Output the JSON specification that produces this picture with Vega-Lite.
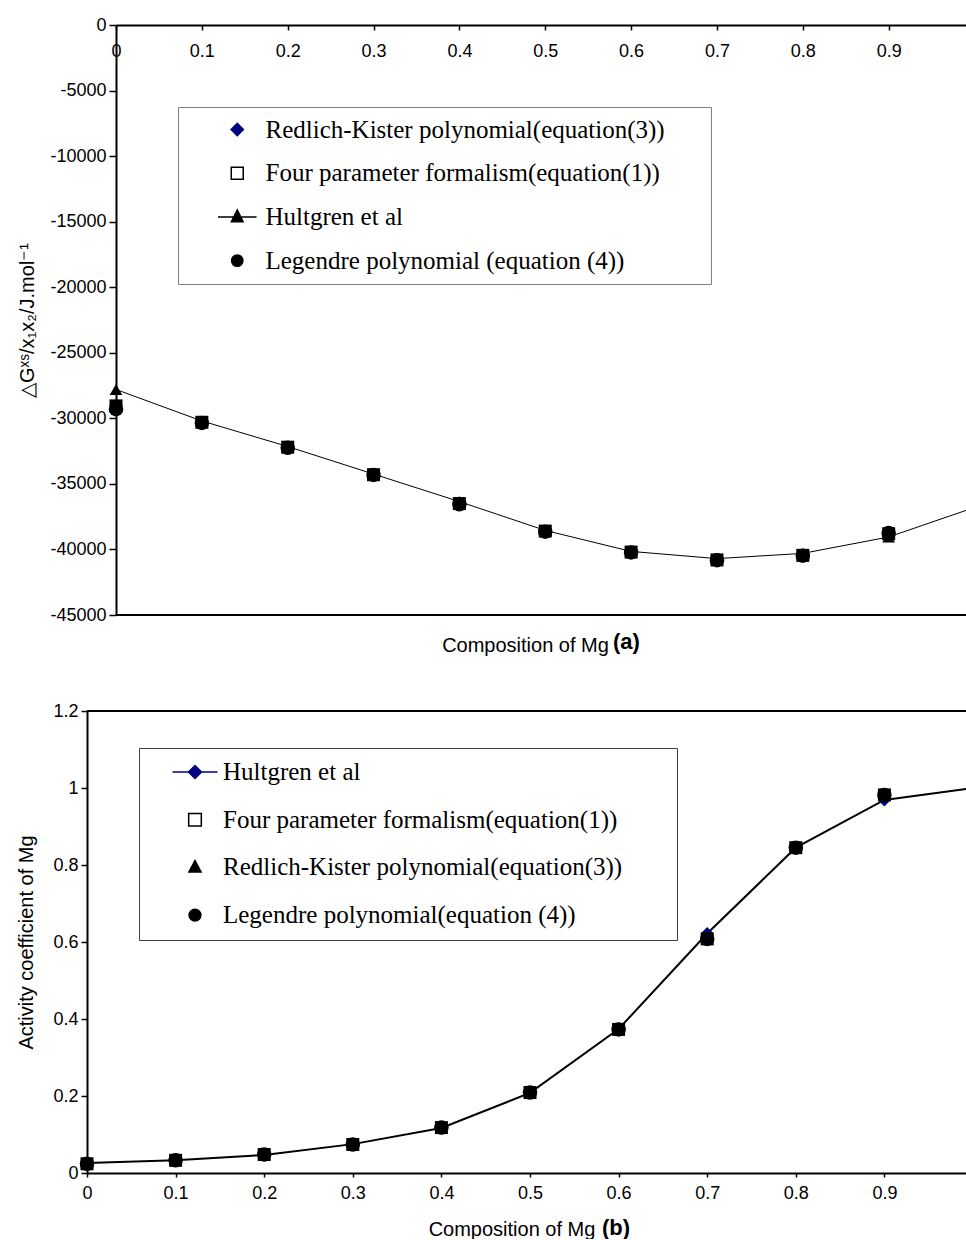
{
  "$schema": "https://vega.github.io/schema/vega-lite/v6.json",
  "background": "white",
  "padding": {"left": 16, "top": 16, "right": 0, "bottom": 0},
  "spacing": 47,
  "config": {
    "view": {"stroke": null},
    "axis": {"labelFont": "Liberation Sans", "labelFontSize": 18, "labelColor": "black", "labelFlush": false, "titleFont": "Liberation Sans", "titleFontSize": 20, "titleFontWeight": "normal", "titleColor": "black", "domainColor": "black", "domainWidth": 2, "tickColor": "black", "tickWidth": 1.5, "grid": false},
    "legend": {"labelFont": "Liberation Serif", "labelFontSize": 25, "labelColor": "black", "labelLimit": 1000, "titleColor": "white", "titleFontSize": 2, "titleOrient": "right"},
    "title": {"font": "Liberation Sans", "fontSize": 22, "fontWeight": "bold", "color": "black"}
  },
  "datasets": {
    "a": [
      {"x": 0, "s": "H", "v": -27800}, {"x": 0.1, "s": "H", "v": -30200}, {"x": 0.2, "s": "H", "v": -32150}, {"x": 0.3, "s": "H", "v": -34250}, {"x": 0.4, "s": "H", "v": -36350}, {"x": 0.5, "s": "H", "v": -38550}, {"x": 0.6, "s": "H", "v": -40150}, {"x": 0.7, "s": "H", "v": -40700}, {"x": 0.8, "s": "H", "v": -40300}, {"x": 0.9, "s": "H", "v": -39050}, {"x": 1.0, "s": "H", "v": -36800},
      {"x": 0, "s": "RK", "v": -29250}, {"x": 0.1, "s": "RK", "v": -30350}, {"x": 0.2, "s": "RK", "v": -32200}, {"x": 0.3, "s": "RK", "v": -34300}, {"x": 0.4, "s": "RK", "v": -36550}, {"x": 0.5, "s": "RK", "v": -38650}, {"x": 0.6, "s": "RK", "v": -40200}, {"x": 0.7, "s": "RK", "v": -40800}, {"x": 0.8, "s": "RK", "v": -40450}, {"x": 0.9, "s": "RK", "v": -38750},
      {"x": 0, "s": "FP", "v": -29050}, {"x": 0.1, "s": "FP", "v": -30300}, {"x": 0.2, "s": "FP", "v": -32200}, {"x": 0.3, "s": "FP", "v": -34300}, {"x": 0.4, "s": "FP", "v": -36500}, {"x": 0.5, "s": "FP", "v": -38600}, {"x": 0.6, "s": "FP", "v": -40200}, {"x": 0.7, "s": "FP", "v": -40800}, {"x": 0.8, "s": "FP", "v": -40450}, {"x": 0.9, "s": "FP", "v": -38800},
      {"x": 0, "s": "L", "v": -29300}, {"x": 0.1, "s": "L", "v": -30350}, {"x": 0.2, "s": "L", "v": -32250}, {"x": 0.3, "s": "L", "v": -34320}, {"x": 0.4, "s": "L", "v": -36560}, {"x": 0.5, "s": "L", "v": -38650}, {"x": 0.6, "s": "L", "v": -40230}, {"x": 0.7, "s": "L", "v": -40820}, {"x": 0.8, "s": "L", "v": -40480}, {"x": 0.9, "s": "L", "v": -38750}
    ],
    "b": [
      {"x": 0, "s": "H", "v": 0.026}, {"x": 0.1, "s": "H", "v": 0.033}, {"x": 0.2, "s": "H", "v": 0.047}, {"x": 0.3, "s": "H", "v": 0.075}, {"x": 0.4, "s": "H", "v": 0.117}, {"x": 0.5, "s": "H", "v": 0.208}, {"x": 0.6, "s": "H", "v": 0.374}, {"x": 0.7, "s": "H", "v": 0.622}, {"x": 0.8, "s": "H", "v": 0.845}, {"x": 0.9, "s": "H", "v": 0.969}, {"x": 1.0, "s": "H", "v": 1.0},
      {"x": 0, "s": "FP", "v": 0.024}, {"x": 0.1, "s": "FP", "v": 0.033}, {"x": 0.2, "s": "FP", "v": 0.048}, {"x": 0.3, "s": "FP", "v": 0.074}, {"x": 0.4, "s": "FP", "v": 0.118}, {"x": 0.5, "s": "FP", "v": 0.209}, {"x": 0.6, "s": "FP", "v": 0.373}, {"x": 0.7, "s": "FP", "v": 0.608}, {"x": 0.8, "s": "FP", "v": 0.845}, {"x": 0.9, "s": "FP", "v": 0.982},
      {"x": 0, "s": "RK", "v": 0.024}, {"x": 0.1, "s": "RK", "v": 0.033}, {"x": 0.2, "s": "RK", "v": 0.048}, {"x": 0.3, "s": "RK", "v": 0.074}, {"x": 0.4, "s": "RK", "v": 0.118}, {"x": 0.5, "s": "RK", "v": 0.209}, {"x": 0.6, "s": "RK", "v": 0.373}, {"x": 0.7, "s": "RK", "v": 0.608}, {"x": 0.8, "s": "RK", "v": 0.845}, {"x": 0.9, "s": "RK", "v": 0.982},
      {"x": 0, "s": "L", "v": 0.024}, {"x": 0.1, "s": "L", "v": 0.033}, {"x": 0.2, "s": "L", "v": 0.048}, {"x": 0.3, "s": "L", "v": 0.074}, {"x": 0.4, "s": "L", "v": 0.118}, {"x": 0.5, "s": "L", "v": 0.209}, {"x": 0.6, "s": "L", "v": 0.373}, {"x": 0.7, "s": "L", "v": 0.608}, {"x": 0.8, "s": "L", "v": 0.845}, {"x": 0.9, "s": "L", "v": 0.982}
    ]
  },
  "resolve": {"scale": {"shape": "independent", "fill": "independent", "stroke": "independent", "size": "independent"}, "legend": {"shape": "independent", "fill": "independent", "stroke": "independent", "size": "independent"}},
  "vconcat": [
    {
      "width": 879,
      "height": 590,
      "data": {"name": "a"},
      "title": {"text": "(a)", "orient": "bottom", "anchor": "start", "frame": "group", "dx": 526, "dy": -6, "offset": 0, "baseline": "alphabetic"},
      "encoding": {
        "x": {"field": "x", "type": "quantitative", "scale": {"domain": [0, 0.9901], "range": [29, 879], "nice": false, "zero": false},
          "axis": {"orient": "bottom", "offset": -590, "values": [0, 0.1, 0.2, 0.3, 0.4, 0.5, 0.6, 0.7, 0.8, 0.9], "labelExpr": "'' + datum.value", "tickSize": 5, "labelPadding": 12, "title": "Composition of Mg", "titleX": 438, "titleY": 626, "titleAlign": "center", "titleBaseline": "alphabetic"}},
        "y": {"field": "v", "type": "quantitative", "scale": {"domain": [-45000, 0], "nice": false, "zero": false},
          "axis": {"offset": -29, "values": [0, -5000, -10000, -15000, -20000, -25000, -30000, -35000, -40000, -45000], "labelExpr": "'' + datum.value", "tickSize": 7, "labelPadding": 3, "title": "△Gˣˢ/x₁x₂/J.mol⁻¹", "titleX": -79}}
      },
      "layer": [
        {"mark": {"type": "line", "color": "black", "strokeWidth": 1, "clip": true}, "transform": [{"filter": "datum.s === 'H'"}]},
        {"mark": {"type": "point", "shape": "diamond", "filled": true, "color": "#000080", "size": 169, "opacity": 1}, "transform": [{"filter": "datum.s === 'RK' && datum.x < 1"}]},
        {"mark": {"type": "point", "shape": "square", "filled": true, "color": "black", "size": 169, "opacity": 1}, "transform": [{"filter": "datum.s === 'FP' && datum.x < 1"}]},
        {"mark": {"type": "point", "shape": "triangle-up", "filled": true, "color": "black", "size": 160, "opacity": 1}, "transform": [{"filter": "datum.s === 'H' && datum.x < 1"}]},
        {"mark": {"type": "point", "shape": "circle", "filled": true, "color": "black", "size": 210, "opacity": 1}, "transform": [{"filter": "datum.s === 'L' && datum.x < 1"}]},
        {"mark": {"type": "rule", "color": "black", "strokeWidth": 2}, "encoding": {"x": {"datum": 0, "type": "quantitative"}, "x2": {"datum": 0.9901}, "y": {"datum": -45000, "type": "quantitative"}}},
        {
          "mark": {"type": "point", "strokeWidth": 1, "opacity": 1},
          "transform": [{"filter": "false"}],
          "encoding": {
            "shape": {"field": "s", "type": "nominal", "scale": {"domain": ["RK", "FP", "H", "L"], "range": ["diamond", "square", "M-3.3,0H3.3M0,-1.2L1,0.85L-1,0.85Z", "circle"]},
              "legend": {"orient": "none", "legendX": 91, "legendY": 82, "title": "\u00a0", "titlePadding": 36, "padding": 10, "strokeColor": "#808080", "rowPadding": 17.7, "symbolOffset": 36.75, "labelOffset": 15.75, "labelLimit": 1000, "labelExpr": "datum.label == 'RK' ? 'Redlich-Kister polynomial(equation(3))' : datum.label == 'FP' ? 'Four parameter formalism(equation(1))' : datum.label == 'H' ? 'Hultgren et al' : 'Legendre polynomial (equation (4))'"}},
            "fill": {"field": "s", "type": "nominal", "scale": {"domain": ["RK", "FP", "H", "L"], "range": ["#000080", "white", "black", "black"]},
              "legend": {"orient": "none", "legendX": 91, "legendY": 82, "title": "\u00a0", "titlePadding": 36, "padding": 10, "strokeColor": "#808080", "rowPadding": 17.7, "symbolOffset": 36.75, "labelOffset": 15.75, "labelLimit": 1000, "labelExpr": "datum.label == 'RK' ? 'Redlich-Kister polynomial(equation(3))' : datum.label == 'FP' ? 'Four parameter formalism(equation(1))' : datum.label == 'H' ? 'Hultgren et al' : 'Legendre polynomial (equation (4))'"}},
            "stroke": {"field": "s", "type": "nominal", "scale": {"domain": ["RK", "FP", "H", "L"], "range": ["#000080", "black", "black", "black"]},
              "legend": {"orient": "none", "legendX": 91, "legendY": 82, "title": "\u00a0", "titlePadding": 36, "padding": 10, "strokeColor": "#808080", "rowPadding": 17.7, "symbolOffset": 36.75, "labelOffset": 15.75, "labelLimit": 1000, "labelExpr": "datum.label == 'RK' ? 'Redlich-Kister polynomial(equation(3))' : datum.label == 'FP' ? 'Four parameter formalism(equation(1))' : datum.label == 'H' ? 'Hultgren et al' : 'Legendre polynomial (equation (4))'"}},
            "size": {"field": "s", "type": "nominal", "scale": {"domain": ["RK", "FP", "H", "L"], "range": [150, 130, 169, 225]},
              "legend": {"orient": "none", "legendX": 91, "legendY": 82, "title": "\u00a0", "titlePadding": 36, "padding": 10, "strokeColor": "#808080", "rowPadding": 17.7, "symbolOffset": 36.75, "labelOffset": 15.75, "labelLimit": 1000, "labelExpr": "datum.label == 'RK' ? 'Redlich-Kister polynomial(equation(3))' : datum.label == 'FP' ? 'Four parameter formalism(equation(1))' : datum.label == 'H' ? 'Hultgren et al' : 'Legendre polynomial (equation (4))'"}}
          }
        }
      ]
    },
    {
      "width": 879,
      "height": 462,
      "data": {"name": "b"},
      "title": {"text": "(b)", "orient": "bottom", "anchor": "start", "frame": "group", "dx": 515, "dy": -4, "offset": 0, "baseline": "alphabetic"},
      "encoding": {
        "x": {"field": "x", "type": "quantitative", "scale": {"domain": [0, 0.9921], "nice": false, "zero": false},
          "axis": {"values": [0, 0.1, 0.2, 0.3, 0.4, 0.5, 0.6, 0.7, 0.8, 0.9], "labelExpr": "'' + datum.value", "tickSize": 4, "labelPadding": 7, "title": "Composition of Mg", "titleX": 424.5, "titleY": 62, "titleAlign": "center", "titleBaseline": "alphabetic"}},
        "y": {"field": "v", "type": "quantitative", "scale": {"domain": [0, 1.2], "nice": false, "zero": false},
          "axis": {"values": [0, 0.2, 0.4, 0.6, 0.8, 1, 1.2], "labelExpr": "'' + datum.value", "tickSize": 6, "labelPadding": 3, "title": "Activity coefficient of Mg", "titleX": -51}}
      },
      "layer": [
        {"mark": {"type": "line", "color": "black", "strokeWidth": 2, "clip": true}, "transform": [{"filter": "datum.s === 'H'"}]},
        {"mark": {"type": "point", "shape": "diamond", "filled": true, "color": "#000080", "size": 169, "opacity": 1}, "transform": [{"filter": "datum.s === 'H' && datum.x < 1"}]},
        {"mark": {"type": "point", "shape": "square", "filled": true, "color": "black", "size": 169, "opacity": 1}, "transform": [{"filter": "datum.s === 'FP' && datum.x < 1"}]},
        {"mark": {"type": "point", "shape": "triangle-up", "filled": true, "color": "black", "size": 160, "opacity": 1}, "transform": [{"filter": "datum.s === 'RK' && datum.x < 1"}]},
        {"mark": {"type": "point", "shape": "circle", "filled": true, "color": "black", "size": 210, "opacity": 1}, "transform": [{"filter": "datum.s === 'L' && datum.x < 1"}]},
        {"mark": {"type": "rule", "color": "black", "strokeWidth": 2}, "encoding": {"x": {"datum": 0, "type": "quantitative"}, "x2": {"datum": 0.9921}, "y": {"datum": 1.2, "type": "quantitative"}}},
        {
          "mark": {"type": "point", "strokeWidth": 1.5, "opacity": 1},
          "transform": [{"filter": "false"}],
          "encoding": {
            "shape": {"field": "s", "type": "nominal", "scale": {"domain": ["H", "FP", "RK", "L"], "range": ["M-3.46,0H3.46M0,-1L1,0L0,1L-1,0Z", "square", "M0,-1.1L1,0.75L-1,0.75Z", "circle"]},
              "legend": {"orient": "none", "legendX": 52, "legendY": 37, "title": "\u00a0", "titlePadding": 43, "padding": 11.5, "strokeColor": "#404040", "rowPadding": 21.7, "symbolOffset": 32, "labelOffset": 15.5, "labelLimit": 1000, "labelExpr": "datum.label == 'RK' ? 'Redlich-Kister polynomial(equation(3))' : datum.label == 'FP' ? 'Four parameter formalism(equation(1))' : datum.label == 'H' ? 'Hultgren et al' : 'Legendre polynomial(equation (4))'"}},
            "fill": {"field": "s", "type": "nominal", "scale": {"domain": ["H", "FP", "RK", "L"], "range": ["#000080", "white", "black", "black"]},
              "legend": {"orient": "none", "legendX": 52, "legendY": 37, "title": "\u00a0", "titlePadding": 43, "padding": 11.5, "strokeColor": "#404040", "rowPadding": 21.7, "symbolOffset": 32, "labelOffset": 15.5, "labelLimit": 1000, "labelExpr": "datum.label == 'RK' ? 'Redlich-Kister polynomial(equation(3))' : datum.label == 'FP' ? 'Four parameter formalism(equation(1))' : datum.label == 'H' ? 'Hultgren et al' : 'Legendre polynomial(equation (4))'"}},
            "stroke": {"field": "s", "type": "nominal", "scale": {"domain": ["H", "FP", "RK", "L"], "range": ["#000080", "black", "black", "black"]},
              "legend": {"orient": "none", "legendX": 52, "legendY": 37, "title": "\u00a0", "titlePadding": 43, "padding": 11.5, "strokeColor": "#404040", "rowPadding": 21.7, "symbolOffset": 32, "labelOffset": 15.5, "labelLimit": 1000, "labelExpr": "datum.label == 'RK' ? 'Redlich-Kister polynomial(equation(3))' : datum.label == 'FP' ? 'Four parameter formalism(equation(1))' : datum.label == 'H' ? 'Hultgren et al' : 'Legendre polynomial(equation (4))'"}},
            "size": {"field": "s", "type": "nominal", "scale": {"domain": ["H", "FP", "RK", "L"], "range": [169, 140, 169, 225]},
              "legend": {"orient": "none", "legendX": 52, "legendY": 37, "title": "\u00a0", "titlePadding": 43, "padding": 11.5, "strokeColor": "#404040", "rowPadding": 21.7, "symbolOffset": 32, "labelOffset": 15.5, "labelLimit": 1000, "labelExpr": "datum.label == 'RK' ? 'Redlich-Kister polynomial(equation(3))' : datum.label == 'FP' ? 'Four parameter formalism(equation(1))' : datum.label == 'H' ? 'Hultgren et al' : 'Legendre polynomial(equation (4))'"}}
          }
        }
      ]
    }
  ]
}
